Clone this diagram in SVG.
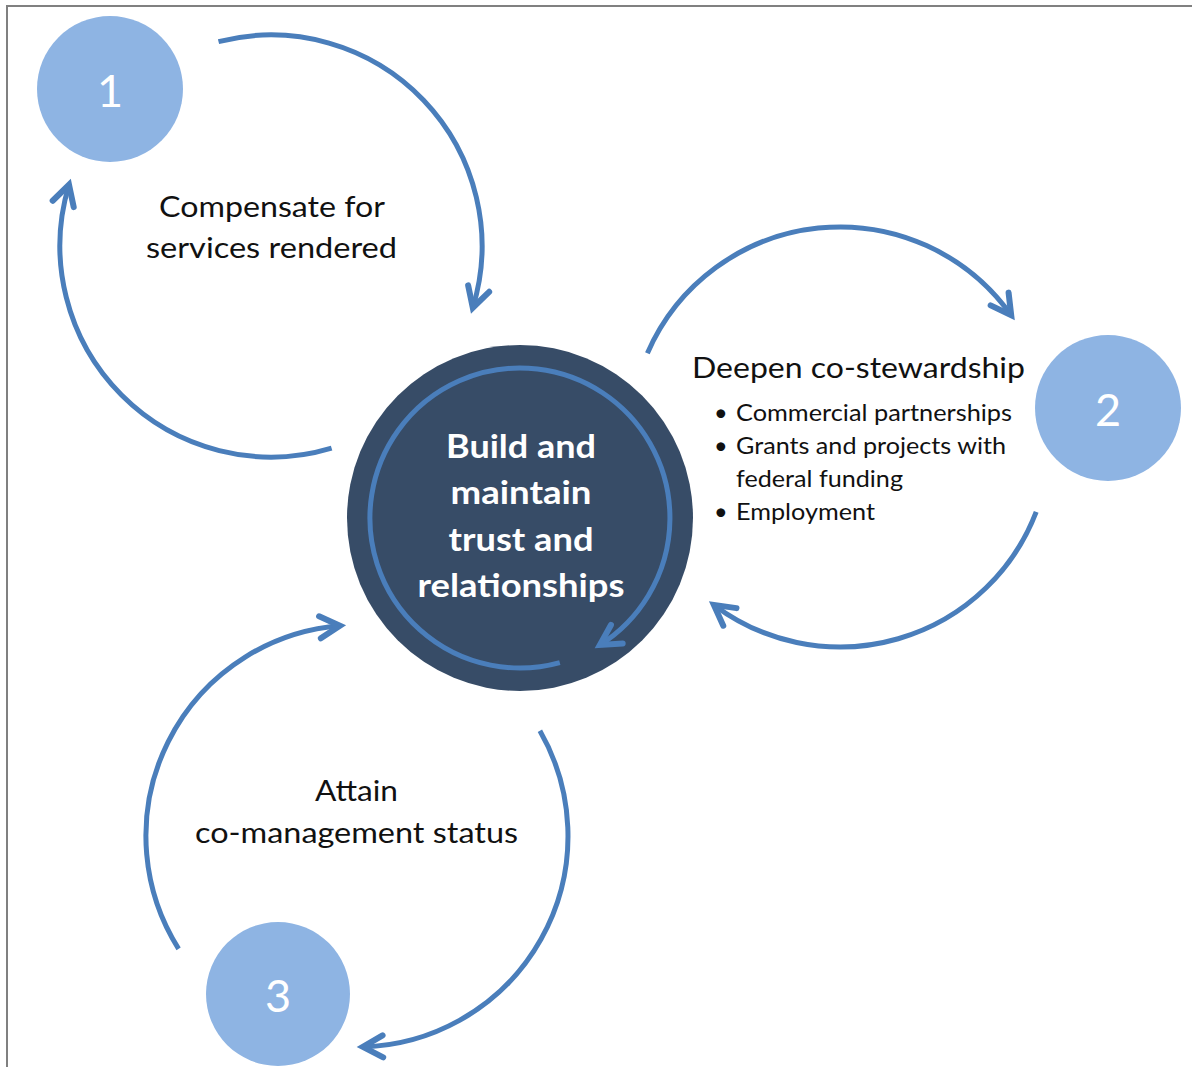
<svg xmlns="http://www.w3.org/2000/svg" width="1192" height="1067" viewBox="0 0 1192 1067">
  <style>
    .lbl { font-family: Lato, "Liberation Sans", sans-serif; fill: #111; }
    .big { font-size: 29px; text-anchor: middle; }
    .bul { font-size: 23.5px; }
    .num { font-family: Lato, "Liberation Sans", sans-serif; font-size: 45px; fill: #ffffff; text-anchor: middle; }
    .ctr { font-family: Lato, "Liberation Sans", sans-serif; font-size: 33px; font-weight: bold; fill: #ffffff; text-anchor: middle; }
    .arc { fill: none; stroke: #4a7ebb; stroke-width: 5; stroke-linecap: butt; marker-end: url(#chev); }
    .step { fill: #8eb4e3; }
  </style>
  <defs>
    <marker id="chev" markerUnits="userSpaceOnUse" orient="auto" markerWidth="40" markerHeight="40" refX="0" refY="0" viewBox="-25 -20 40 40" overflow="visible">
      <path d="M-20,-11 L0,0 L-20,11" fill="none" stroke="#4a7ebb" stroke-width="6" stroke-linejoin="miter" stroke-linecap="round"/>
    </marker>
  </defs>
  <rect width="1192" height="1067" fill="#ffffff"/>
  <g id="frame">
    <path d="M7,1067 L7,6 L1192,6" fill="none" stroke="#808080" stroke-width="2"/>
  </g>

  <g id="connectors">
    <path class="arc" d="M218.5,41.6 A211,211 0 0 1 472.8,307.7"/>
    <path class="arc" d="M331.6,448.1 A211,211 0 0 1 69,184.8"/>
    <path class="arc" d="M647.4,353.3 A210,210 0 0 1 1011.2,315.3"/>
    <path class="arc" d="M1036.2,511.9 A210,210 0 0 1 713.9,604.9"/>
    <path class="arc" d="M178.6,948.8 A211,211 0 0 1 339.9,625.7"/>
    <path class="arc" d="M539.9,730.8 A211,211 0 0 1 362.9,1046.9"/>
  </g>

  <g id="center">
    <circle cx="520" cy="518" r="173" fill="#374c67"/>
    <path class="arc" d="M559.8,662.6 A150,150 0 1 1 599.9,644.9"/>
    <text class="ctr" x="521" y="458" textLength="150" lengthAdjust="spacingAndGlyphs">Build and</text>
    <text class="ctr" x="521" y="504" textLength="141" lengthAdjust="spacingAndGlyphs">maintain</text>
    <text class="ctr" x="521" y="551" textLength="145" lengthAdjust="spacingAndGlyphs">trust and</text>
    <text class="ctr" x="521" y="597" textLength="207" lengthAdjust="spacingAndGlyphs">relationships</text>
  </g>

  <g id="step1">
    <circle class="step" cx="110" cy="89" r="73"/>
    <text class="num" x="110" y="107">1</text>
  </g>
  <g id="label1">
    <text class="lbl big" x="272" y="217" textLength="226" lengthAdjust="spacingAndGlyphs">Compensate for</text>
    <text class="lbl big" x="271.5" y="258" textLength="251" lengthAdjust="spacingAndGlyphs">services rendered</text>
  </g>

  <g id="step2">
    <circle class="step" cx="1108" cy="408" r="73"/>
    <text class="num" x="1108" y="426">2</text>
  </g>
  <g id="label2">
    <text class="lbl" x="692" y="378" font-size="29" textLength="333" lengthAdjust="spacingAndGlyphs">Deepen co-stewardship</text>
    <text class="lbl bul" x="714" y="421">•</text>
    <text class="lbl bul" x="736" y="421" textLength="276" lengthAdjust="spacingAndGlyphs">Commercial partnerships</text>
    <text class="lbl bul" x="714" y="454">•</text>
    <text class="lbl bul" x="736" y="454" textLength="270" lengthAdjust="spacingAndGlyphs">Grants and projects with</text>
    <text class="lbl bul" x="736" y="487" textLength="167" lengthAdjust="spacingAndGlyphs">federal funding</text>
    <text class="lbl bul" x="714" y="520">•</text>
    <text class="lbl bul" x="736" y="520" textLength="139" lengthAdjust="spacingAndGlyphs">Employment</text>
  </g>

  <g id="step3">
    <circle class="step" cx="278" cy="994" r="72"/>
    <text class="num" x="278" y="1012">3</text>
  </g>
  <g id="label3">
    <text class="lbl big" x="356.5" y="801" textLength="83" lengthAdjust="spacingAndGlyphs">Attain</text>
    <text class="lbl big" x="356.5" y="843" textLength="323" lengthAdjust="spacingAndGlyphs">co-management status</text>
  </g>
</svg>
